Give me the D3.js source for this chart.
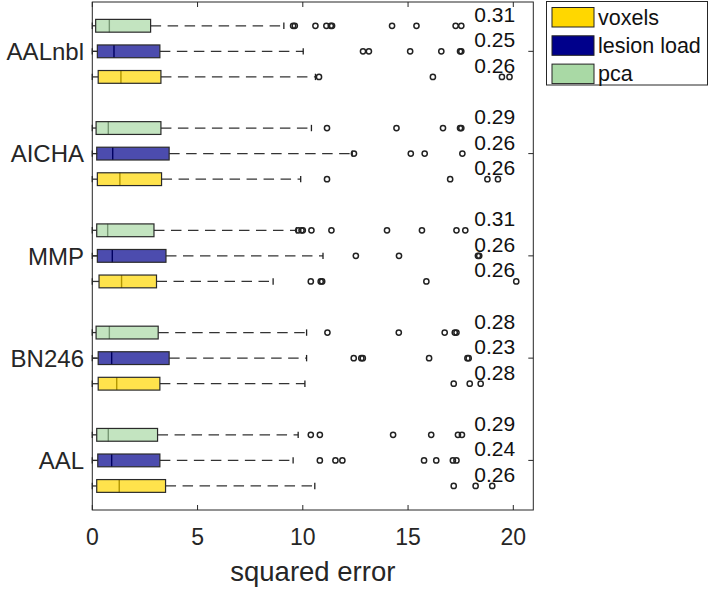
<!DOCTYPE html>
<html><head><meta charset="utf-8">
<script src="https://cdn.jsdelivr.net/npm/d3@7"></script>
<style>body{margin:0;background:#fff}svg{display:block;font-family:"Liberation Sans",Arial,Helvetica,sans-serif}</style>
</head><body><svg id="c" width="709" height="589"></svg>
<script>
// groups from bottom to top
const groups = ["AAL", "BN246", "MMP", "AICHA", "AALnbl"];
const seriesNames = ["voxels", "lesion load", "pca"];
const seriesColors = ["#FFD700", "#00008B", "#A9D9A5"];
const xTicks = [0, 5, 10, 15, 20];

// [lower whisker, q1, median, q3, upper whisker] per group
const voxelsBox = [[0, 0.21, 1.28, 3.48, 10.57], [0, 0.28, 1.16, 3.21, 10.1], [0, 0.32, 1.39, 3.05, 8.59], [0, 0.24, 1.31, 3.29, 9.9], [0, 0.28, 1.36, 3.26, 10.6]];
const lesionBox = [[0, 0.26, 0.92, 3.21, 9.54], [0, 0.28, 0.92, 3.65, 10.18], [0, 0.24, 0.95, 3.5, 10.96], [0, 0.21, 0.97, 3.65, 12.35], [0, 0.24, 1.03, 3.21, 10.02]];
const pcaBox = [[0, 0.21, 0.76, 3.1, 9.78], [0, 0.18, 0.81, 3.13, 10.18], [0, 0.21, 0.73, 2.93, 9.7], [0, 0.18, 0.76, 3.26, 10.41], [0, 0.16, 0.81, 2.77, 9.1]];

const voxelsOutliers = [[17.17, 18.21, 19.0], [17.17, 17.93, 18.45], [10.38, 10.85, 10.92, 15.87, 20.14], [11.15, 17.0, 18.77, 19.27], [10.77, 16.18, 19.46, 19.82]];
const lesionOutliers = [[10.81, 11.55, 11.88, 15.76, 16.34, 17.13, 17.3], [12.42, 12.78, 12.85, 16.0, 17.82, 17.88], [12.52, 14.57, 18.32, 18.38], [12.43, 15.13, 15.79, 17.58], [12.86, 13.14, 15.1, 16.58, 17.47, 17.53]];
const pcaOutliers = [[10.38, 10.81, 14.29, 16.1, 17.37, 17.56], [11.17, 14.56, 16.74, 17.22, 17.3], [9.78, 9.94, 10.0, 10.41, 11.36, 14.0, 15.66, 17.3, 17.72], [11.15, 14.45, 16.66, 17.47, 17.53], [9.54, 9.62, 10.6, 11.12, 11.33, 11.39, 14.24, 15.4, 17.26, 17.53]];

const voxelsLabels = ["0.26", "0.28", "0.26", "0.26", "0.26"];
const lesionLabels = ["0.24", "0.23", "0.26", "0.26", "0.25"];
const pcaLabels = ["0.29", "0.28", "0.31", "0.29", "0.31"];

const boxes = [voxelsBox, lesionBox, pcaBox];
const outliers = [voxelsOutliers, lesionOutliers, pcaOutliers];
const labels = [voxelsLabels, lesionLabels, pcaLabels];

const svg = d3.select("#c");
const L = 92.3, R = 533.3, T = 2, B = 510;
const x = d3.scaleLinear().domain([0, 20.95]).range([L, R]);
const y = d3.scaleLinear().domain([0.06, 19.93]).range([B, T]);
const pos = (g, s) => 1 + 4 * g + s;
const bh = y(0) - y(0.5);
const axisCol = "#262626";

const plot = svg.append("g");
groups.forEach((gname, g) => {
  seriesNames.forEach((sname, s) => {
    const [lo, q1, med, q3, hi] = boxes[s][g];
    const cy = y(pos(g, s));
    const gg = plot.append("g");
    // whiskers
    gg.append("line").attr("x1", x(q3)).attr("x2", x(hi)).attr("y1", cy).attr("y2", cy)
      .attr("stroke", "#333").attr("stroke-width", 1.3).attr("stroke-dasharray", "10.5,6.5");
    gg.append("line").attr("x1", x(lo)).attr("x2", x(q1)).attr("y1", cy).attr("y2", cy)
      .attr("stroke", "#333").attr("stroke-width", 1.3);
    gg.append("line").attr("x1", x(hi)).attr("x2", x(hi)).attr("y1", cy - bh / 4).attr("y2", cy + bh / 4)
      .attr("stroke", "#222").attr("stroke-width", 1.3);
    gg.append("line").attr("x1", x(lo)).attr("x2", x(lo)).attr("y1", cy - bh / 4).attr("y2", cy + bh / 4)
      .attr("stroke", "#222").attr("stroke-width", 1.3);
    // median (under translucent patch)
    gg.append("line").attr("x1", x(med)).attr("x2", x(med)).attr("y1", cy - bh / 2).attr("y2", cy + bh / 2)
      .attr("stroke", "#000").attr("stroke-width", 1.4);
    gg.append("rect").attr("x", x(q1)).attr("y", cy - bh / 2).attr("width", x(q3) - x(q1)).attr("height", bh)
      .attr("fill", seriesColors[s]).attr("fill-opacity", 0.7);
    gg.append("rect").attr("x", x(q1)).attr("y", cy - bh / 2).attr("width", x(q3) - x(q1)).attr("height", bh)
      .attr("fill", "none").attr("stroke", "#2a2a2a").attr("stroke-width", 1.2);
    // outliers
    gg.selectAll("circle").data(outliers[s][g]).join("circle")
      .attr("cx", d => x(d)).attr("cy", cy).attr("r", 2.6)
      .attr("fill", "none").attr("stroke", "#222").attr("stroke-width", 1.5);
    // annotation
    svg.append("text").attr("x", x(18.15)).attr("y", cy - 4)
      .attr("font-size", 21).attr("fill", "#111").text(labels[s][g]);
  });
});

// axes box
svg.append("rect").attr("x", L).attr("y", T).attr("width", R - L).attr("height", B - T)
  .attr("fill", "none").attr("stroke", axisCol).attr("stroke-width", 1);
// x ticks
xTicks.forEach(t => {
  svg.append("line").attr("x1", x(t)).attr("x2", x(t)).attr("y1", B).attr("y2", B - 5).attr("stroke", axisCol);
  svg.append("line").attr("x1", x(t)).attr("x2", x(t)).attr("y1", T).attr("y2", T + 5).attr("stroke", axisCol);
  svg.append("text").attr("x", x(t)).attr("y", 545).attr("text-anchor", "middle")
    .attr("font-size", 23).attr("fill", "#262626").text(t);
});
// y ticks
groups.forEach((gname, g) => {
  const cy = y(pos(g, 1));
  svg.append("line").attr("x1", L).attr("x2", L + 5).attr("y1", cy).attr("y2", cy).attr("stroke", axisCol);
  svg.append("line").attr("x1", R).attr("x2", R - 5).attr("y1", cy).attr("y2", cy).attr("stroke", axisCol);
  svg.append("text").attr("x", 84).attr("y", cy).attr("dy", "0.36em").attr("text-anchor", "end")
    .attr("font-size", 24).attr("fill", "#262626").text(gname);
});
svg.append("text").attr("x", (L + R) / 2).attr("y", 581).attr("text-anchor", "middle")
  .attr("font-size", 27.5).attr("fill", "#262626").text("squared error");

// legend
const lg = svg.append("g");
lg.append("rect").attr("x", 546.5).attr("y", 1.5).attr("width", 161).attr("height", 83.5)
  .attr("fill", "#fff").attr("stroke", axisCol).attr("stroke-width", 1);
seriesNames.forEach((n, i) => {
  const ly = 7.5 + i * 28.3;
  lg.append("rect").attr("x", 552).attr("y", ly).attr("width", 42).attr("height", 19.5)
    .attr("fill", seriesColors[i]).attr("stroke", "#222").attr("stroke-width", 1);
  lg.append("text").attr("x", 598).attr("y", ly + 9.75).attr("dy", "0.35em")
    .attr("font-size", 21.5).attr("fill", "#111").text(n);
});
</script></body></html>
